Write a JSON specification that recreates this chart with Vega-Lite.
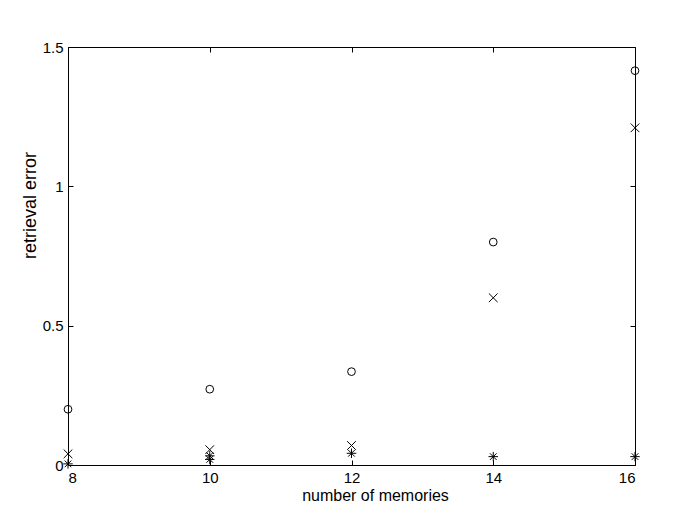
{
  "$schema": "https://vega.github.io/schema/vega-lite/v6.json",
  "width": 567,
  "height": 418,
  "autosize": {"type": "none"},
  "padding": {"left": 68, "top": 47, "right": 58, "bottom": 58},
  "background": "white",
  "config": {
    "view": {"stroke": null},
    "axis": {
      "grid": false,
      "domainColor": "#000",
      "domainWidth": 1,
      "tickColor": "#000",
      "tickSize": -5,
      "labelFont": "Liberation Sans",
      "labelFontSize": 15,
      "labelColor": "#000",
      "titleFont": "Liberation Sans",
      "titleFontSize": 16,
      "titleFontWeight": "normal",
      "titleColor": "#000"
    }
  },
  "data": {
    "values": [
      {"memories": 8, "error": 0.2, "series": "o"},
      {"memories": 10, "error": 0.272, "series": "o"},
      {"memories": 12, "error": 0.335, "series": "o"},
      {"memories": 14, "error": 0.8, "series": "o"},
      {"memories": 16, "error": 1.415, "series": "o"},
      {"memories": 8, "error": 0.04, "series": "x"},
      {"memories": 10, "error": 0.055, "series": "x"},
      {"memories": 12, "error": 0.07, "series": "x"},
      {"memories": 14, "error": 0.6, "series": "x"},
      {"memories": 16, "error": 1.21, "series": "x"},
      {"memories": 8, "error": 0.004, "series": "*"},
      {"memories": 10, "error": 0.02, "series": "*"},
      {"memories": 10, "error": 0.033, "series": "*"},
      {"memories": 12, "error": 0.042, "series": "*"},
      {"memories": 14, "error": 0.03, "series": "*"},
      {"memories": 16, "error": 0.03, "series": "*"}
    ]
  },
  "resolve": {"axis": {"x": "independent", "y": "independent"}},
  "layer": [
    {
      "mark": {"type": "point", "filled": false, "color": "#000", "strokeWidth": 1, "opacity": 1},
      "encoding": {
        "x": {
          "field": "memories", "type": "quantitative",
          "scale": {"domain": [8, 16], "nice": false, "zero": false},
          "axis": {"orient": "bottom", "values": [8, 10, 12, 14, 16], "labelPadding": 10, "title": "number of memories", "titleX": 307, "titleY": 35, "titleBaseline": "alphabetic"}
        },
        "y": {
          "field": "error", "type": "quantitative",
          "scale": {"domain": [0, 1.5], "nice": false, "zero": false},
          "axis": {"orient": "left", "values": [0, 0.5, 1, 1.5], "labelPadding": 10, "format": "~g", "title": "retrieval error", "titleFontSize": 18, "titleX": -38, "titleY": 158, "titleAngle": -90, "titleBaseline": "middle"}
        },
        "shape": {
          "field": "series", "type": "nominal", "legend": null,
          "scale": {
            "domain": ["o", "x", "*"],
            "range": ["circle", "M-1,-1L1,1M-1,1L1,-1", "M-1,0L1,0M0,-1L0,1M-0.7,-0.7L0.7,0.7M-0.7,0.7L0.7,-0.7"]
          }
        },
        "size": {
          "field": "series", "type": "nominal", "legend": null,
          "scale": {"domain": ["o", "x", "*"], "range": [60, 90, 90]}
        }
      }
    },
    {
      "mark": {"type": "point", "opacity": 0},
      "encoding": {
        "x": {
          "field": "memories", "type": "quantitative",
          "axis": {"orient": "top", "values": [8, 10, 12, 14, 16], "labels": false, "title": null}
        },
        "y": {
          "field": "error", "type": "quantitative",
          "axis": {"orient": "right", "values": [0, 0.5, 1, 1.5], "labels": false, "title": null}
        }
      }
    }
  ]
}
